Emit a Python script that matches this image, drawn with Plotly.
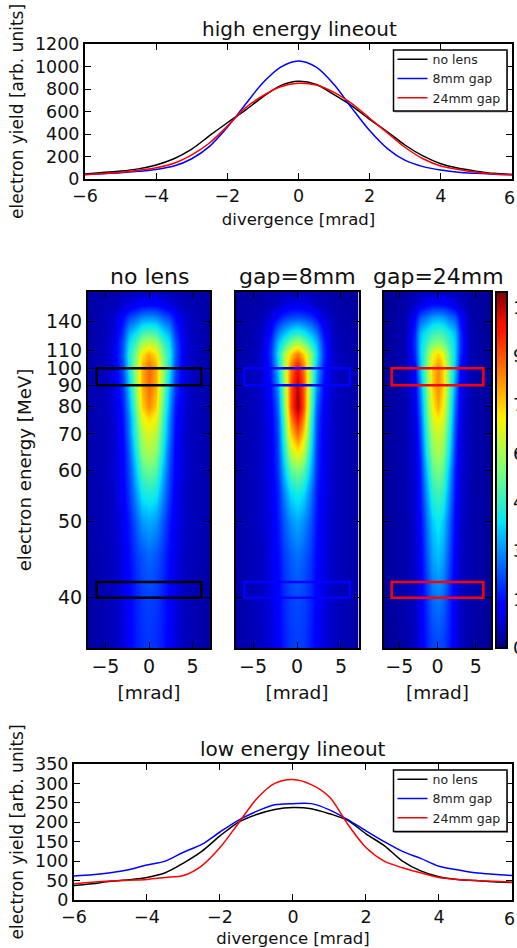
import plotly.graph_objects as go

W, H = 517, 948
FONT = "DejaVu Sans"
INK = "#111111"

# ---- lineouts ----
div = [-6,-5.5,-5,-4.5,-4,-3.5,-3,-2.5,-2,-1.5,-1,-0.5,0,0.5,1,1.5,2,2.5,3,3.5,4,4.5,5,5.5,6]
hi_none = [45,58,70,90,125,180,265,385,500,610,730,830,868,840,750,650,530,420,300,205,135,95,70,50,40]
hi_8 = [40,47,55,68,85,115,180,290,460,660,855,995,1050,995,840,630,430,270,165,110,80,60,50,42,38]
hi_24 = [38,48,60,78,100,140,215,320,470,630,740,820,850,835,770,670,540,410,280,180,115,85,60,45,40]
lo_none = [37,42,48,52,58,70,95,125,165,200,220,233,238,235,222,205,170,140,100,75,60,53,50,47,45]
lo_8 = [62,65,70,78,90,100,123,143,175,205,228,245,248,248,232,207,178,150,125,107,87,78,70,66,63]
lo_24 = [42,46,49,51,53,58,63,88,135,197,260,300,310,297,265,195,135,100,83,70,58,53,50,48,46]
series_names = ["no lens", "8mm gap", "24mm gap"]
series_colors = ["black", "blue", "red"]

# ---- spectra: fraction of full scale at |divergence| (columns) and energy (rows) ----
ZMAX = 10970
abs_div = [0, 0.75, 1.5, 2.25, 3, 4, 5, 7]
energy = [200,170,150,130,120,110,100,90,80,75,70,65,60,55,50,45,40,36]
z_none = [
 [.06,.06,.055,.05,.045,.04,.04,.03],
 [.13,.125,.11,.09,.07,.05,.045,.035],
 [.27,.26,.22,.19,.13,.07,.05,.035],
 [.45,.43,.36,.30,.18,.08,.05,.035],
 [.58,.54,.44,.35,.21,.09,.055,.035],
 [.72,.66,.50,.39,.22,.09,.055,.035],
 [.80,.72,.55,.37,.20,.09,.055,.04],
 [.80,.72,.53,.33,.18,.085,.055,.04],
 [.76,.68,.48,.29,.15,.08,.05,.04],
 [.67,.62,.45,.26,.14,.075,.05,.04],
 [.61,.56,.42,.25,.13,.07,.05,.04],
 [.56,.52,.38,.22,.12,.07,.05,.04],
 [.48,.45,.33,.20,.12,.07,.05,.04],
 [.39,.37,.28,.18,.11,.065,.05,.04],
 [.30,.28,.22,.15,.10,.065,.05,.04],
 [.23,.21,.18,.13,.09,.06,.05,.035],
 [.19,.18,.155,.12,.085,.055,.045,.03],
 [.18,.17,.15,.115,.08,.055,.045,.03],
]
z_8 = [
 [.05,.05,.045,.04,.04,.035,.03,.03],
 [.10,.095,.08,.065,.05,.04,.035,.03],
 [.20,.19,.17,.13,.08,.05,.04,.03],
 [.40,.37,.31,.25,.13,.06,.045,.03],
 [.56,.50,.40,.31,.16,.065,.045,.035],
 [.78,.68,.52,.35,.17,.07,.05,.035],
 [.91,.78,.52,.31,.15,.07,.05,.04],
 [.97,.82,.50,.27,.13,.07,.05,.04],
 [.99,.82,.47,.22,.11,.065,.05,.04],
 [.90,.76,.43,.20,.105,.065,.05,.04],
 [.80,.68,.40,.19,.10,.065,.05,.04],
 [.66,.58,.36,.18,.10,.065,.05,.04],
 [.50,.46,.31,.17,.10,.065,.05,.04],
 [.38,.35,.25,.15,.095,.065,.05,.04],
 [.30,.27,.21,.14,.09,.065,.05,.04],
 [.24,.22,.18,.125,.09,.06,.05,.04],
 [.20,.19,.16,.115,.085,.06,.05,.035],
 [.19,.18,.15,.11,.08,.06,.05,.035],
]
z_24 = [
 [.06,.06,.055,.05,.045,.035,.03,.02],
 [.14,.135,.12,.09,.065,.04,.03,.02],
 [.29,.28,.24,.21,.12,.05,.035,.02],
 [.44,.42,.37,.31,.17,.055,.035,.02],
 [.51,.49,.41,.33,.18,.06,.035,.02],
 [.68,.62,.46,.33,.17,.06,.035,.025],
 [.76,.68,.48,.31,.13,.055,.035,.025],
 [.77,.68,.47,.27,.11,.055,.035,.025],
 [.72,.64,.44,.23,.10,.05,.035,.025],
 [.65,.60,.42,.21,.09,.05,.035,.025],
 [.60,.55,.39,.19,.085,.05,.035,.025],
 [.56,.51,.36,.17,.08,.05,.035,.025],
 [.50,.46,.31,.15,.08,.05,.035,.025],
 [.43,.40,.27,.14,.075,.05,.035,.025],
 [.37,.33,.23,.12,.07,.045,.035,.025],
 [.32,.29,.20,.11,.065,.045,.035,.025],
 [.25,.23,.165,.10,.06,.045,.035,.025],
 [.20,.19,.15,.095,.06,.04,.03,.02],
]
panels = [("no lens", z_none, "black"), ("gap=8mm", z_8, "blue"), ("gap=24mm", z_24, "red")]
tick_energy = [144.8, 113.6, 100, 90, 80, 70, 60, 50, 40]
tick_labels = ["140", "110", "100", "90", "80", "70", "60", "50", "40"]
high_band = (90, 100)
low_band = (40, 41.7)
box_div = (-6, 6)
cb_ticks = [0, 1500, 3000, 4500, 6000, 7500, 9000, 10500]
JET = [[0,"#00007f"],[.11,"#0000ff"],[.125,"#0000ff"],[.34,"#00d5ff"],[.35,"#00e5f7"],[.5,"#7cff79"],[.64,"#f7f400"],[.66,"#ffe500"],[.89,"#ff1300"],[.91,"#fa0f00"],[1,"#7f0000"]]

def xd(a, b): return [a / W, b / W]
def yd(top, bot): return [1 - bot / H, 1 - top / H]
def fnt(s): return dict(size=s, color=INK, family=FONT)
def px_rect(x0, x1, top, bot, **kw):
    fig.add_shape(type="rect", xref="paper", yref="paper", x0=x0/W, x1=x1/W, y0=1-bot/H, y1=1-top/H, layer="above", **kw)

fig = go.Figure()
side = dict(showline=True, linecolor="black", linewidth=2, mirror="ticks", ticks="inside",
            ticklen=6, tickwidth=1, tickcolor="black", showgrid=False, zeroline=False)

def lineout(ax, xa, ya, rows, yr, dy, title, tx, ty, legend_name, box):
    for name, col, vals in zip(series_names, series_colors, rows):
        fig.add_trace(go.Scatter(x=div, y=vals, mode="lines", name=name, legend=legend_name,
                                 xaxis="x" + ax, yaxis="y" + ax,
                                 line=dict(color=col, width=1.5, shape="spline", smoothing=0.85)))
    fig.update_layout({
        "xaxis" + ax: dict(side, domain=xd(*xa), range=[-6, 6.001], tickvals=[-6,-4,-2,0,2,4,6],
                           ticktext=["−6","−4","−2","0","2","4",""], anchor="y" + ax, tickfont=fnt(17.5),
                           title=dict(text="divergence [mrad]", font=fnt(16.5), standoff=8)),
        "yaxis" + ax: dict(side, domain=yd(*ya), range=yr, dtick=dy, anchor="x" + ax, tickfont=fnt(17.5),
                           title=dict(text="electron yield [arb. units]", font=fnt(17), standoff=7)),
        legend_name: dict(x=392.5/W, y=1-(box[0]+11-16.5)/H, xanchor="left", yanchor="top", bgcolor="rgba(0,0,0,0)",
                          borderwidth=0, font=dict(size=12.5, color="#222", family=FONT), itemwidth=30),
    })
    fig.add_annotation(text="6", xref="x" + ax, yref="paper", x=6, y=1 - (ya[1] + 7) / H, yanchor="top", xanchor="center",
                       xshift=-2, showarrow=False, font=fnt(17.5))
    fig.add_annotation(text=title, xref="paper", yref="paper", x=tx / W, y=1 - ty / H, showarrow=False,
                       xanchor="center", yanchor="middle", font=fnt(20))
    px_rect(394.5, 508, box[0] + 1.5, box[1] + 1.5, line=dict(width=0), fillcolor="#a8a8a8")
    px_rect(393.5, 507, box[0], box[1], line=dict(color="black", width=1.5), fillcolor="white")

lineout("", (85, 512), (44, 179), [hi_none, hi_8, hi_24], [0, 1200], 200, "high energy lineout", 299, 29, "legend", (50, 111))
lineout("2", (74, 512), (764, 900), [lo_none, lo_8, lo_24], [0, 350], 50, "low energy lineout", 293, 749, "legend2", (770, 831.5))

# ---- spectra ----
heat = [("3", (88, 210), 149), ("4", (235.5, 358.5), 297), ("5", (384, 491), 438)]
xs = [-v for v in abs_div[:0:-1]] + abs_div
ys = [1 / e for e in energy]
for (ax, xa, xc), (ttl, table, col) in zip(heat, panels):
    z = [[v * ZMAX for v in (r[:0:-1] + r)] for r in table]
    show = ax == "5"
    fig.add_trace(go.Heatmap(x=xs, y=ys, z=z, zmin=0, zmax=ZMAX, zsmooth="best", colorscale=JET,
                             xaxis="x" + ax, yaxis="y" + ax, showscale=show,
                             colorbar=dict(x=496/W, xanchor="left", xpad=0, ypad=0, thickness=10.5, thicknessmode="pixels",
                                           y=1-648/H, yanchor="bottom", len=(648-292)/H, lenmode="fraction",
                                           outlinecolor="black", outlinewidth=2, tickvals=cb_ticks,
                                           ticks="outside", ticklen=2, tickcolor="rgba(0,0,0,0)", tickwidth=1,
                                           tickfont=fnt(18))))
    fig.update_layout({
        "xaxis" + ax: dict(side, domain=xd(*xa), range=[-7, 7], tickvals=[-5, 0, 5], ticktext=["−5", "0", "5"], anchor="y" + ax,
                           tickfont=fnt(19), title=dict(text="[mrad]", font=fnt(18.5), standoff=10)),
        "yaxis" + ax: dict(side, domain=yd(292, 648), range=[1 / 35.35, 1 / 199.6], tickvals=[1 / e for e in tick_energy],
                           ticktext=tick_labels if ax == "3" else [""] * 9, anchor="x" + ax, tickfont=fnt(19),
                           title=dict(text="electron energy [MeV]" if ax == "3" else "", font=fnt(18.2), standoff=10)),
    })
    for band in (high_band, low_band):
        fig.add_shape(type="rect", xref="x" + ax, yref="y" + ax, x0=box_div[0], x1=box_div[1],
                      y0=1 / band[0], y1=1 / band[1], line=dict(color=col, width=2.5), layer="above")
    fig.add_annotation(text=ttl, xref="paper", yref="paper", x=xc / W, y=1 - 276 / H, showarrow=False,
                       xanchor="center", yanchor="middle", font=fnt(22))

# colour-bar dividers at the tick values
for t in cb_ticks[1:]:
    yy = 648 - (648 - 292) * t / ZMAX
    fig.add_shape(type="line", xref="paper", yref="paper", x0=496/W, x1=506.5/W, y0=1-yy/H, y1=1-yy/H,
                  line=dict(color="black", width=1), layer="above")

fig.update_layout(width=W, height=H, paper_bgcolor="white", plot_bgcolor="white",
                  margin=dict(l=0, r=0, t=0, b=0, autoexpand=False), font=dict(family=FONT))
fig.write_html("out.html", config=dict(displayModeBar=False),
               post_script="document.body.style.margin='0';document.body.style.overflow='hidden';")
